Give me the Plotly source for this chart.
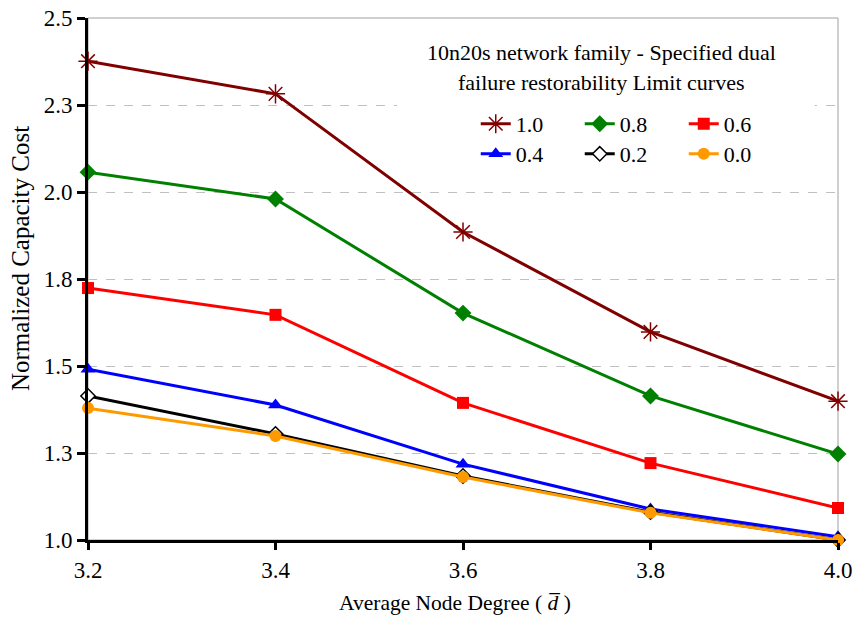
import plotly.graph_objects as go

# ---- data ----
degree = [3.2, 3.4, 3.6, 3.8, 4.0]
limit_10 = [2.376, 2.282, 1.885, 1.598, 1.399]
limit_08 = [2.057, 1.980, 1.652, 1.414, 1.247]
limit_06 = [1.724, 1.647, 1.394, 1.221, 1.092]
limit_04 = [1.491, 1.388, 1.218, 1.089, 1.009]
limit_02 = [1.414, 1.305, 1.184, 1.080, 1.000]
limit_00 = [1.379, 1.299, 1.181, 1.078, 1.000]
series_names = ["1.0", "0.8", "0.6", "0.4", "0.2", "0.0"]
x_tickvals = [3.2, 3.4, 3.6, 3.8, 4.0]
x_ticktext = ["3.2", "3.4", "3.6", "3.8", "4.0"]
y_tickvals = [1.0, 1.25, 1.5, 1.75, 2.0, 2.25, 2.5]
y_ticktext = ["1.0", "1.3", "1.5", "1.8", "2.0", "2.3", "2.5"]
legend_title_lines = ["10n20s network family - Specified dual", "failure restorability Limit curves"]
x_title = "Average Node Degree ( <i>d\u0305</i> )"
y_title = "Normalized Capacity Cost"

FONT = "Liberation Serif"
styles = [
    dict(color="#800000", symbol="asterisk-open", size=16, fill="#800000", lw=1.5, legend="legend"),
    dict(color="#008000", symbol="diamond", size=13, fill="#008000", lw=0, legend="legend"),
    dict(color="#FF0000", symbol="square", size=12, fill="#FF0000", lw=0, legend="legend"),
    dict(color="#0000FF", symbol="triangle-up", size=13, fill="#0000FF", lw=0, legend="legend2"),
    dict(color="#000000", symbol="diamond", size=11, fill="#FFFFFF", lw=1.5, legend="legend2"),
    dict(color="#FF9900", symbol="circle", size=12, fill="#FF9900", lw=0, legend="legend2"),
]
values = [limit_10, limit_08, limit_06, limit_04, limit_02, limit_00]

fig = go.Figure()
for name, vals, st in zip(series_names, values, styles):
    fig.add_trace(go.Scatter(
        x=degree, y=vals, name=name, mode="lines+markers",
        line=dict(color=st["color"], width=3),
        marker=dict(symbol=st["symbol"], size=st["size"], color=st["fill"],
                    line=dict(color=st["color"], width=st["lw"])),
        cliponaxis=False, legend=st["legend"],
    ))

# gray frame on top/right of plot area
fig.add_shape(type="rect", xref="x domain", yref="y domain", x0=0, x1=1, y0=0, y1=1,
              line=dict(color="#A0A0A0", width=1), layer="below")
# white backdrop behind the legend title
fig.add_shape(type="rect", xref="paper", yref="paper", x0=0.412, x1=0.969, y0=0.815, y1=0.985,
              line=dict(width=0), fillcolor="white", layer="above")

# legend title lines
fig.add_annotation(text=legend_title_lines[0], xref="paper", yref="paper", x=0.6853, y=0.9335,
                   xanchor="center", yanchor="middle", showarrow=False,
                   font=dict(family=FONT, size=22, color="black"))
fig.add_annotation(text=legend_title_lines[1], xref="paper", yref="paper", x=0.6853, y=0.876,
                   xanchor="center", yanchor="middle", showarrow=False,
                   font=dict(family=FONT, size=22, color="black"))
# axis titles
fig.add_annotation(text=x_title, xref="paper", yref="paper", x=0.489, y=-0.1207,
                   xanchor="center", yanchor="middle", showarrow=False,
                   font=dict(family=FONT, size=21.5, color="black"))
fig.add_annotation(text=y_title, xref="paper", yref="paper", x=-0.0907, y=0.54,
                   xanchor="center", yanchor="middle", showarrow=False, textangle=-90,
                   font=dict(family=FONT, size=25, color="black"))

legend_common = dict(
    orientation="h", xanchor="center", yanchor="middle",
    bgcolor="rgba(255,255,255,0)", borderwidth=0,
    entrywidth=59, entrywidthmode="pixels",
    font=dict(family=FONT, size=22, color="black"),
)

fig.update_layout(
    width=854, height=619,
    margin=dict(l=88, r=16, t=18, b=79),
    paper_bgcolor="white", plot_bgcolor="white",
    font=dict(family=FONT, size=23, color="black"),
    showlegend=True,
    legend=dict(x=0.725, y=0.797, **legend_common),
    legend2=dict(x=0.725, y=0.7395, **legend_common),
    xaxis=dict(
        range=[3.2, 4.0], tickvals=x_tickvals, ticktext=x_ticktext,
        showgrid=False, zeroline=False, automargin=False,
        showline=True, linecolor="black", linewidth=3,
        ticks="outside", ticklen=7, tickwidth=3, tickcolor="black",
        tickfont=dict(family=FONT, size=23),
    ),
    yaxis=dict(
        range=[1.0, 2.5], tickvals=y_tickvals, ticktext=y_ticktext,
        showgrid=True, gridcolor="#C0C0C0", gridwidth=1, griddash="dash",
        zeroline=False, automargin=False,
        showline=True, linecolor="black", linewidth=3,
        ticks="outside", ticklen=8, tickwidth=3, tickcolor="black",
        tickfont=dict(family=FONT, size=23),
    ),
)

fig.write_html("out.html")
